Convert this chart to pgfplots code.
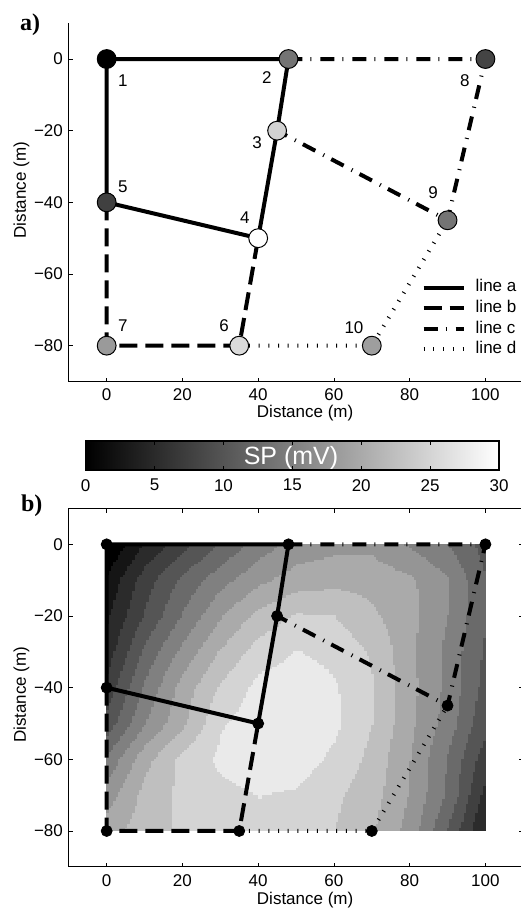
\documentclass[border=0pt]{standalone}
\usepackage{fontspec}
\setmainfont{Liberation Sans}
\newfontfamily\serifbf{Liberation Serif}
\usepackage{pgfplots}
\pgfplotsset{compat=1.18}
\usepgfplotslibrary{patchplots}
\usepackage{pgfplotstable}

\pgfplotstableread{
x y v
0 0 0
10 0 5.2
20 0 9.2
30 0 12.8
40 0 16.2
50 0 18.5
60 0 19.2
70 0 19.3
80 0 17.2
90 0 15
100 0 11.5
0 -10 3
10 -10 8.9
20 -10 13.1
30 -10 16.6
40 -10 19.4
50 -10 21.2
60 -10 21.8
70 -10 21.6
80 -10 20.5
90 -10 17.7
100 -10 12.5
0 -20 4.7
10 -20 10.3
20 -20 15.3
30 -20 19.8
40 -20 23.3
50 -20 25.3
60 -20 25
70 -20 23
80 -20 20.7
90 -20 17.5
100 -20 12.5
0 -30 6.2
10 -30 13.2
20 -30 18.3
30 -30 22.8
40 -30 26.2
50 -30 27.6
60 -30 26.8
70 -30 24.7
80 -30 20.6
90 -30 16.8
100 -30 12
0 -40 8.5
10 -40 15.5
20 -40 21.1
30 -40 25.4
40 -40 28.3
50 -40 29
60 -40 27.8
70 -40 25.2
80 -40 20.8
90 -40 16.8
100 -40 11.5
0 -50 11
10 -50 17.5
20 -50 22
30 -50 27.3
40 -50 28.8
50 -50 29
60 -50 28
70 -50 25
80 -50 20.6
90 -50 16.3
100 -50 10.5
0 -60 15.6
10 -60 21.7
20 -60 25.9
30 -60 28
40 -60 29
50 -60 28.7
60 -60 27
70 -60 24.2
80 -60 20
90 -60 14.8
100 -60 8.5
0 -70 18.8
10 -70 23.4
20 -70 25.6
30 -70 26.8
40 -70 27.5
50 -70 27.2
60 -70 25.5
70 -70 23.5
80 -70 19.8
90 -70 14.5
100 -70 6.5
0 -80 21.5
10 -80 23.8
20 -80 25.5
30 -80 26.2
40 -80 26.5
50 -80 26
60 -80 25
70 -80 22.8
80 -80 19
90 -80 12.3
100 -80 4.5
}\spfield

\pgfplotstableread{
x y sp
0 0 0
48 0 13.5
45 -20 24.5
40 -50 30
0 -40 7.5
35 -80 25.5
0 -80 18
100 0 8
90 -45 13.5
70 -80 18.5
}\sppoints

\pgfplotstableread{
x y
48 0
0 0
0 -40
40 -50
45 -20
48 0
}\linea
\pgfplotstableread{
x y
0 -40
0 -80
35 -80
40 -50
}\lineb
\pgfplotstableread{
x y
48 0
100 0
90 -45
45 -20
}\linec
\pgfplotstableread{
x y
35 -80
70 -80
90 -45
}\lined

\newcommand{\tfont}{\fontsize{8.5}{10}\selectfont}

\pgfplotsset{
 colormap={spbands}{gray(0cm)=(0); gray(1cm)=(0.0833); gray(2cm)=(0.1667); gray(3cm)=(0.25); gray(4cm)=(0.3333); gray(5cm)=(0.4167); gray(6cm)=(0.5); gray(7cm)=(0.5833); gray(8cm)=(0.6667); gray(9cm)=(0.75); gray(10cm)=(0.8333); gray(11cm)=(0.9167); gray(12cm)=(1)},
 colormap={spgray}{gray(0cm)=(0); gray(1cm)=(1)},
 sppanel/.style={
  width=227.25pt, height=179.15pt, scale only axis,
  xmin=-10, xmax=110, ymin=-90, ymax=10,
  xtick={0,20,...,100}, ytick={-80,-60,-40,-20,0},
  yticklabels={−80,−60,−40,−20,0},
  tick align=inside, major tick length=2pt,
  tick style={black, line width=0.4pt},
  axis line style={black, line width=0.6pt},
  ticklabel style={font=\tfont},
  xticklabel style={anchor=north, inner sep=0pt, yshift=-3.6pt},
  yticklabel style={anchor=east, inner sep=0pt, xshift=-2.75pt},
  /pgf/number format/assume math mode=true,
  label style={font=\tfont},
  xlabel={Distance (m)}, ylabel={Distance (m)},
  point meta min=0, point meta max=30,
 },
 la/.style={black, line width=2pt},
 lb/.style={black, line width=2pt, dash pattern=on 9pt off 4pt},
 lc/.style={black, line width=2pt, dash pattern=on 7pt off 4pt on 0.5pt off 4.5pt},
 ld/.style={black, line width=2pt, dash pattern=on 0.5pt off 4.35pt},
}

\begin{document}
\begin{tikzpicture}
\useasboundingbox (0pt,0pt) rectangle (260pt,-455pt);

% ---------------- panel a
\begin{axis}[sppanel,
  at={(34.4pt,-190.75pt)}, anchor=south west,
  axis x line*=bottom, axis y line*=left,
  axis line style={-},
  xlabel style={at={(axis description cs:0.52,0)}, anchor=center, yshift=-15.75pt},
  ylabel style={at={(axis description cs:-0.104,0.534)}, anchor=center},
  colormap name=spgray,
  clip=false,
  legend style={draw=none, fill=none, at={(axis description cs:0.7765,0.284)}, anchor=north west,
    inner sep=0pt, outer sep=0pt, row sep=3.2pt, font=\tfont,
    nodes={inner sep=0pt, text height=6.1pt, text depth=0pt, anchor=base west}},
  legend image code/.code={\draw[#1] (0pt,2.2pt) -- (20pt,2.2pt); \path (25pt,0pt);},
  legend cell align=left,
]
\addplot[la] table {\linea}; \addlegendentry{line a}
\addplot[lb] table {\lineb}; \addlegendentry{line b}
\addplot[lc] table {\linec}; \addlegendentry{line c}
\addplot[ld] table {\lined}; \addlegendentry{line d}
\addplot[scatter, only marks, mark=*, mark size=4.7pt, line width=0.5pt,
  point meta=explicit, scatter/use mapped color={draw=black, fill=mapped color}, forget plot]
  table[meta=sp] {\sppoints};
\begin{scope}[font=\tfont]
\node at (axis cs:4.3,-5.9) {1};
\node at (axis cs:42.3,-5.3) {2};
\node at (axis cs:39.7,-23.4) {3};
\node at (axis cs:36.5,-44.4) {4};
\node at (axis cs:4.3,-35.7) {5};
\node at (axis cs:31,-74.5) {6};
\node at (axis cs:4.3,-74.5) {7};
\node at (axis cs:94.6,-5.9) {8};
\node at (axis cs:86.2,-37.4) {9};
\node at (axis cs:65.3,-75.1) {10};
\end{scope}
\end{axis}

% ---------------- colour bar
\begin{axis}[at={(42.85pt,-235pt)}, anchor=south west,
  width=206.65pt, height=14.5pt, scale only axis,
  xmin=0, xmax=30, ymin=0, ymax=1, ytick=\empty,
  xtick={0,5,...,30}, xtick pos=both, tick align=inside, major tick length=2pt,
  tick style={black, line width=0.4pt},
  axis line style={black, line width=0.8pt},
  colormap name=spgray, point meta min=0, point meta max=30,
  ticklabel style={font=\tfont},
  xticklabel style={anchor=north, inner sep=0pt, yshift=-4.4pt},
  /pgf/number format/assume math mode=true,
  axis on top,
]
\addplot[surf, shader=interp, point meta=x, mesh/cols=2] table {
x y
0 0
30 0
0 1
30 1
};
\node[white, font=\fontsize{12.5}{14}\selectfont, anchor=base] at (axis cs:14.9,0.207) {SP (mV)};
\end{axis}

% ---------------- panel b
\begin{axis}[sppanel,
  at={(34.4pt,-433.4pt)}, anchor=south west,
  xlabel style={at={(axis description cs:0.52,0)}, anchor=center, yshift=-16.6pt},
  ylabel style={at={(axis description cs:-0.104,0.48)}, anchor=center},
  colormap name=spbands, colormap access=piecewise constant,
  clip=false,
]
\addplot[surf, shader=interp, patch type=bilinear, mesh/cols=11, point meta=\thisrow{v}] table {\spfield};
\addplot[la] table {\linea};
\addplot[lb] table {\lineb};
\addplot[lc] table {\linec};
\addplot[ld] table {\lined};
\addplot[only marks, mark=*, mark size=2.75pt, black] table {\sppoints};
\end{axis}

\node[font=\serifbf\bfseries\fontsize{12}{14}\selectfont, anchor=base west] at (6.5pt,-15.5pt) {a)};
\node[font=\serifbf\bfseries\fontsize{12}{14}\selectfont, anchor=base west] at (7pt,-255.5pt) {b)};
\end{tikzpicture}
\end{document}
